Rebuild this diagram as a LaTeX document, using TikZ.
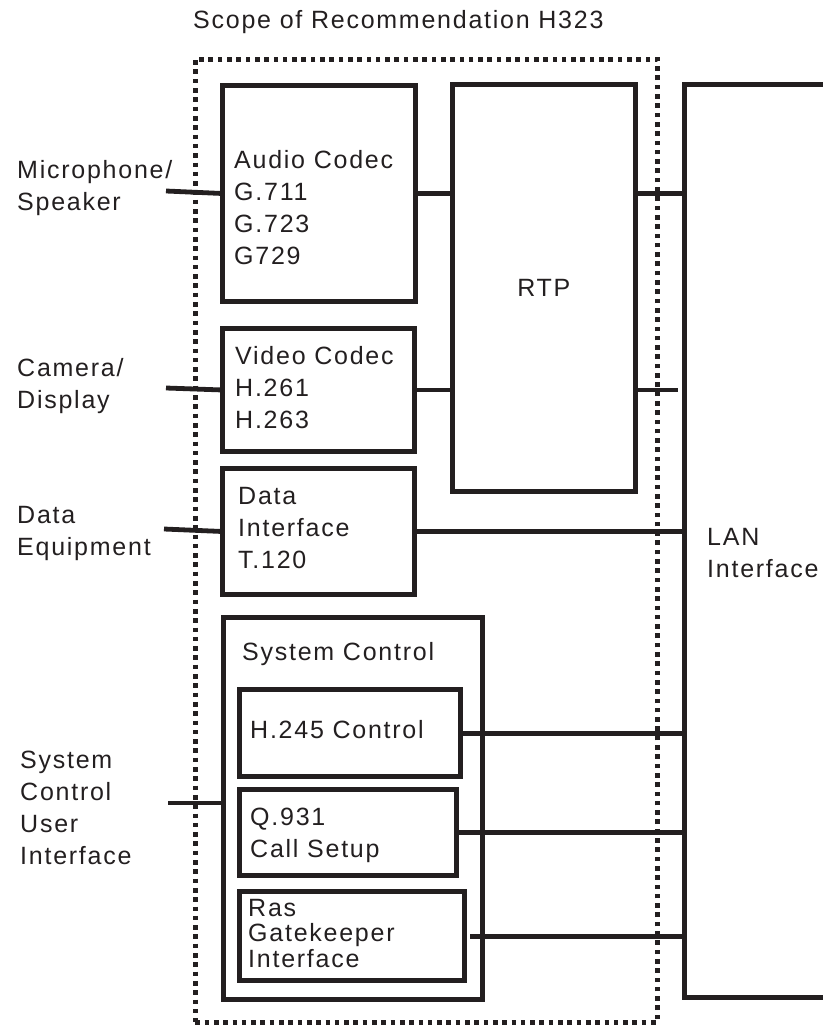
\documentclass[tikz,border=0pt]{standalone}
\usepackage{fontspec}
\setmainfont{Liberation Sans}[LetterSpace=7]
\usetikzlibrary{calc,positioning}
\definecolor{ink}{RGB}{35,31,32}

\begin{document}
\begin{tikzpicture}[x=1pt,y=-1pt,
    every node/.style={font=\fontsize{25}{32}\selectfont, text=ink, inner sep=0pt},
    blockbox/.style={draw=ink, line width=4.8pt, anchor=north west},
    wire/.style={draw=ink, line width=4.8pt},
    lbl/.style={anchor=base west, align=left}]
\useasboundingbox (0,0) rectangle (822,1025);

% scope of the recommendation
\node[draw=ink, line width=4.6pt, dash pattern=on 4.6pt off 4.7pt, anchor=north west,
      minimum width=462, minimum height=963] (scope) at (193,57) {};
\node[lbl] (ttl) at (193,29) {Scope of Recommendation H323};

% blocks
\node[blockbox, minimum width=193, minimum height=216] (audio) at (220,83) {};
\node[blockbox, minimum width=192, minimum height=123] (video) at (220,326) {};
\node[blockbox, minimum width=192, minimum height=126] (datai) at (220,466) {};
\node[blockbox, minimum width=183, minimum height=407] (rtp) at (450,82) {RTP};
\node[blockbox, minimum width=259, minimum height=382] (sysctl) at (221,615) {};
\node[blockbox, line width=5.3pt, minimum width=221, minimum height=87] (hctl) at (237,687) {};
\node[blockbox, line width=5.3pt, minimum width=217, minimum height=86] (qcall) at (237,787) {};
\node[blockbox, line width=5.3pt, minimum width=225, minimum height=89] (ras) at (237,889) {};
\node[blockbox, minimum width=250, minimum height=913] (lan) at (682,82) {};

% texts in the blocks (anchored on the last line)
\node[lbl] (taudio) at (234,264) {Audio Codec\\G.711\\G.723\\G729};
\node[lbl] (tvideo) at (235,428) {Video Codec\\H.261\\H.263};
\node[lbl] (tdata) at (238,568) {Data\\Interface\\T.120};
\node[lbl] (tsys) at (242,660) {System Control};
\node[lbl] (thctl) at (250,738) {H.245 Control};
\node[lbl] (tq) at (250,857) {Q.931\\Call Setup};
\node[lbl, font=\fontsize{25}{25.5}\selectfont] (tras) at (248,967) {Ras\\Gatekeeper\\Interface};
\node[lbl] (tlan) at (707,577) {LAN\\Interface};

% outside equipment
\node[lbl] (lmic) at (17,210) {Microphone/\\Speaker};
\node[lbl] (lcam) at (17,408) {Camera/\\Display};
\node[lbl] (ldat) at (17,555) {Data\\Equipment};
\node[lbl] (lui) at (20,864) {System\\Control\\User\\Interface};

\coordinate (mic) at (166,191);
\coordinate (cam) at (166,388);
\coordinate (dat) at (164,529);
\coordinate (ui) at (168,803);

% connectors
\draw[wire] (mic) -- (audio.west);
\draw[wire] (cam) -- (video.west);
\draw[wire] (dat) -- (datai.west);
\draw[wire] (ui) -- (ui -| sysctl.west);
\draw[wire] (audio.east) -- (audio.east -| rtp.west);
\draw[wire] (video.east) -- (video.east -| rtp.west);
\draw[wire] (audio.east -| rtp.east) -- (audio.east -| lan.west);
\draw[wire] (video.east -| rtp.east) -- ($(video.east -| lan.west)+(-4,0)$);
\draw[wire] (datai.east) -- (datai.east -| lan.west);
\draw[wire] (hctl.east) -- (hctl.east -| lan.west);
\draw[wire] (qcall.east) -- (qcall.east -| lan.west);
\draw[wire] ($(ras.east)+(3,0)$) -- (ras.east -| lan.west);
\end{tikzpicture}
\end{document}
